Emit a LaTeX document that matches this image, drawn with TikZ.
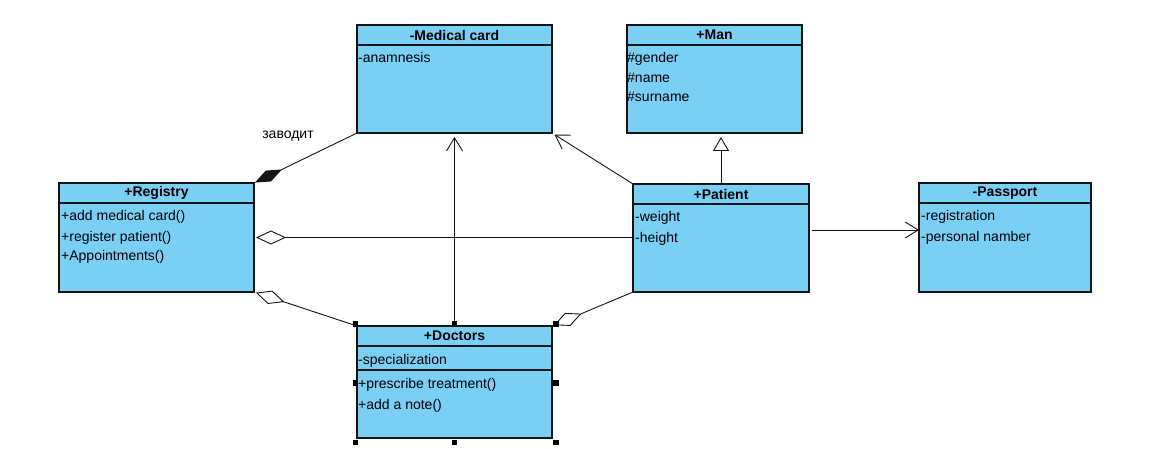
\documentclass[tikz,border=0pt]{standalone}
\usepackage{fontspec}
\setmainfont{Liberation Sans}
\usetikzlibrary{arrows.meta}
\definecolor{classfill}{RGB}{122,207,245}
\definecolor{classline}{RGB}{20,20,20}

\begin{document}
\begin{tikzpicture}[x=1pt,y=1pt,yscale=-1,xscale=1,
	classbox/.style={draw=classline, fill=classfill, line width=1.1pt, anchor=north west, inner sep=0pt, outer sep=0pt},
	headbox/.style={classbox, minimum height=20pt, font=\fontsize{14}{16}\selectfont\bfseries},
	attr/.style={anchor=base west, inner sep=0pt, font=\fontsize{14}{16}\selectfont},
	assoc/.style={draw=classline, line width=0.9pt},
	openarrow/.style={assoc, -{Straight Barb[length=13pt, width=16pt, line width=0.9pt]}},
	generalize/.style={assoc, -{Triangle[open, length=14pt, width=16pt, line width=0.9pt]}, shorten >=4pt},
	openagg/.style={assoc, {Diamond[fill=white, length=30pt, width=14pt, line width=0.9pt]}-, shorten <=2pt},
	filledagg/.style={assoc, {Diamond[length=30pt, width=12pt]}-, shorten <=1pt}
	]
	\useasboundingbox (0,0) rectangle (1159,449);

	% Class: Medical card
	\node (card) [classbox, minimum width=195pt, minimum height=108pt] at (357,25) {};
	\node (cardhead) [headbox, minimum width=195pt] at (card.north west) {-Medical card};
	\node (cardanam) [attr] at (358,63) {-anamnesis};
	% Class: Man
	\node (man) [classbox, minimum width=175pt, minimum height=108pt] at (627,25) {};
	\node (manhead) [headbox, minimum width=175pt] at (man.north west) {+Man};
	\node (mangender) [attr] at (627,63) {\#gender};
	\node (manname) [attr] at (627,83) {\#name};
	\node (mansurname) [attr] at (627,102) {\#surname};
	% Class: Registry
	\node (reg) [classbox, minimum width=195pt, minimum height=109pt] at (59,183) {};
	\node (reghead) [headbox, minimum width=195pt] at (reg.north west) {+Registry};
	\node (regadd) [attr] at (61,221) {+add medical card()};
	\node (regpatient) [attr] at (61,241) {+register patient()};
	\node (regappoint) [attr] at (61,260) {+Appointments()};
	% Class: Patient
	\node (pat) [classbox, minimum width=176pt, minimum height=108pt] at (633,184) {};
	\node (pathead) [headbox, minimum width=176pt] at (pat.north west) {+Patient};
	\node (patweight) [attr] at (635,222) {-weight};
	\node (patheight) [attr] at (635,242) {-height};
	% Class: Passport
	\node (pass) [classbox, minimum width=172pt, minimum height=109pt] at (919,183) {};
	\node (passhead) [headbox, minimum width=172pt] at (pass.north west) {-Passport};
	\node (passreg) [attr] at (921,221) {-registration};
	\node (passnum) [attr] at (921,241) {-personal namber};
	% Class: Doctors
	\node (doc) [classbox, minimum width=195pt, minimum height=112pt] at (357,326) {};
	\node (dochead) [headbox, minimum width=195pt] at (doc.north west) {+Doctors};
	\node (docattr) [classbox, minimum width=195pt, minimum height=24pt] at (dochead.south west) {};
	\node (docspec) [attr] at (358,364) {-specialization};
	\node (docprescribe) [attr] at (358,388) {+prescribe treatment()};
	\node (docnote) [attr] at (358,409) {+add a note()};

	% Text Node
	\node (makes) [attr, anchor=center] at (288,136) {заводит};

	% Connection
	\draw [filledagg] (reg.north east) -- (card.south west);
	% Connection
	\draw [openarrow, shorten >=4pt] (doc.north) -- (card.south);
	% Connection
	\draw [openarrow, shorten >=3pt] (pat.north west) -- (card.south east);
	% Connection
	\draw [generalize] (pat.north) -- (pat.north |- man.south);
	% Connection
	\draw [openagg] (reg.east) -- (reg.east -| pat.west);
	% Connection
	\draw [openagg] (reg.south east) -- (doc.north west);
	% Connection
	\draw [openagg] (doc.north east) -- (pat.south west);
	% Connection
	\coordinate (patout) at (812,230);
	\draw [openarrow] (patout) -- (patout -| pass.west);

	% selection handles
	\foreach \hx/\hy in {355.5/324, 454.5/324, 556/324, 355.5/383, 556/383, 355.5/442.5, 454.5/442.5, 556/442.5}
		\fill (\hx-2.75,\hy-2.75) rectangle ++(5.5,5.5);

\end{tikzpicture}
\end{document}
